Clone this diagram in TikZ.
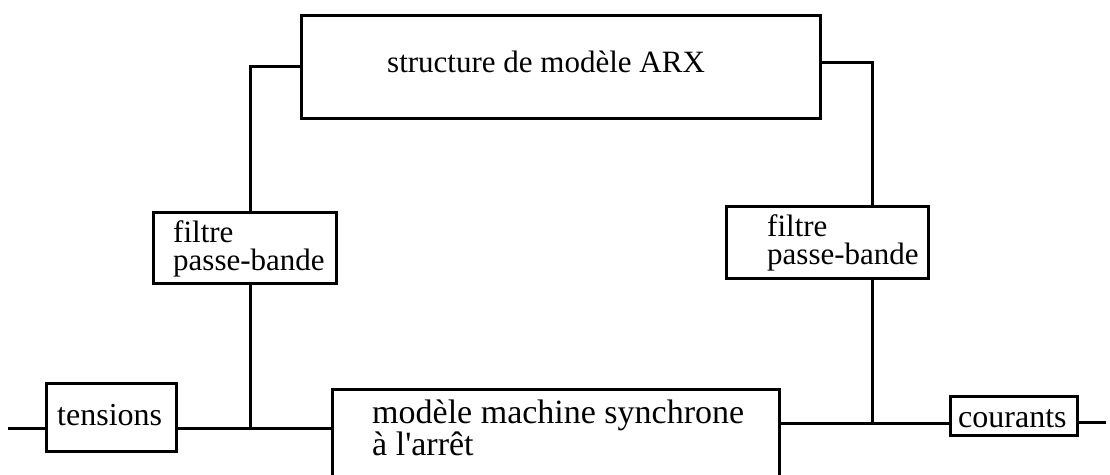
\documentclass[tikz,border=0pt]{standalone}
\usepackage{fontspec}
\setmainfont{Liberation Serif}[Ligatures=TeXOff]
\begin{document}
\begin{tikzpicture}[x=1pt,y=-1pt,
  box/.style={draw, line width=3pt, inner sep=0pt, outer sep=0pt, rectangle},
  lbl/.style={anchor=base west, inner sep=0pt, font=\fontsize{31}{28}\selectfont, align=left},
  wire/.style={line width=3pt}]
\useasboundingbox (0,0) rectangle (1110,474);
\clip (0,0) rectangle (1110,474);
% boxes
\node[box, minimum width=519, minimum height=103] (top) at (560.5,66.5) {};
\node[box, minimum width=183, minimum height=71] (lf) at (244.5,247.5) {};
\node[box, minimum width=202, minimum height=72] (rf) at (827,242) {};
\node[box, minimum width=447, minimum height=131] (bot) at (555.5,454.5) {};
\node[box, minimum width=130, minimum height=68] (tens) at (111,417) {};
\node[box, minimum width=127, minimum height=39] (cour) at (1013.5,415.5) {};
% labels (base = baseline of last line)
\node[lbl] (ttop) at (387,72) {structure de modèle ARX};
\node[lbl] (tlf) at (173,270) {filtre\\passe-bande};
\node[lbl] (trf) at (767,264) {filtre\\passe-bande};
\node[lbl, font=\fontsize{34}{30}\selectfont] (tbot) at (372,455) {modèle machine synchrone\\à l'arrêt};
\node[lbl, font=\fontsize{32}{30}\selectfont] (ttens) at (57,425) {tensions};
\node[lbl, font=\fontsize{32}{30}\selectfont] (tcour) at (958,427) {courants};
% junctions
\coordinate (inL) at (8,428);
\coordinate (jl) at (250,428);
\coordinate (tl) at (250,66);
\coordinate (tr) at (872,62);
\coordinate (jr) at (872,423);
\coordinate (outR) at (1106,422);
% wires
\draw[wire] (inL) -- (inL -| tens.west);
\draw[wire] (tens.east |- jl) -- (bot.west |- jl);
\draw[wire] (jl) -- (jl |- lf.south);
\draw[wire] (jl |- lf.north) -- (tl) -- (tl -| top.west);
\draw[wire] (tr -| top.east) -- (tr) -- (tr |- rf.north);
\draw[wire] (jr |- rf.south) -- (jr);
\draw[wire] (bot.east |- jr) -- (cour.west |- jr);
\draw[wire] (cour.east |- outR) -- (outR);
\end{tikzpicture}
\end{document}
